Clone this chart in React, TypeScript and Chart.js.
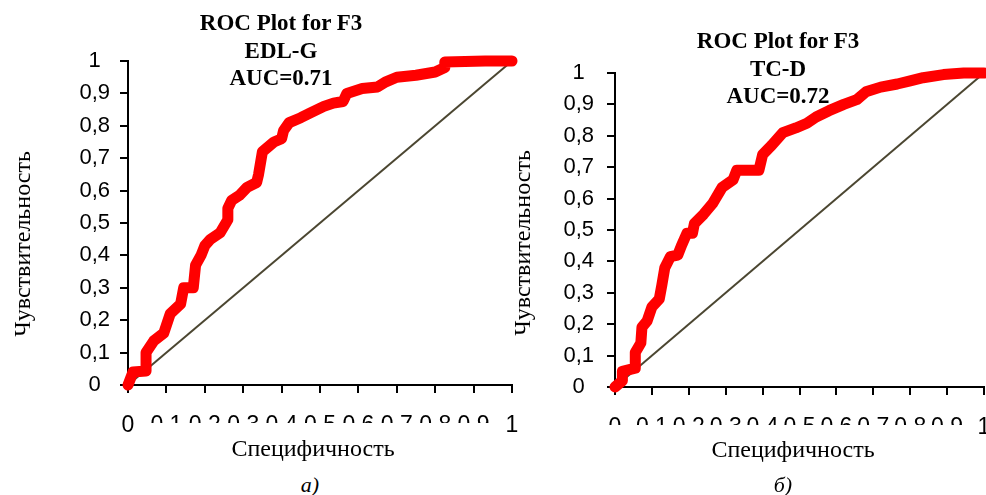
import React, { useEffect, useRef } from 'react';
import { Chart, registerables } from 'chart.js';

Chart.register(...registerables);

// ---- Data ----
const leftX = [0, 0.013, 0.047, 0.047, 0.067, 0.093, 0.11, 0.137, 0.145, 0.17, 0.176, 0.19, 0.2, 0.215, 0.24, 0.26, 0.26, 0.27, 0.29, 0.31, 0.335, 0.34, 0.35, 0.38, 0.4, 0.405, 0.42, 0.45, 0.475, 0.51, 0.535, 0.56, 0.57, 0.61, 0.65, 0.67, 0.7, 0.75, 0.8, 0.825, 0.825, 0.93, 1];
const leftY = [0, 0.04, 0.043, 0.1, 0.136, 0.16, 0.22, 0.25, 0.3, 0.3, 0.37, 0.4, 0.43, 0.45, 0.47, 0.51, 0.545, 0.57, 0.585, 0.61, 0.625, 0.65, 0.72, 0.75, 0.76, 0.785, 0.81, 0.825, 0.84, 0.86, 0.87, 0.875, 0.9, 0.915, 0.92, 0.935, 0.95, 0.956, 0.966, 0.98, 0.997, 1, 1];

const rightX = [0, 0.02, 0.02, 0.055, 0.055, 0.07, 0.073, 0.087, 0.1, 0.12, 0.127, 0.135, 0.15, 0.17, 0.18, 0.195, 0.21, 0.215, 0.24, 0.265, 0.29, 0.32, 0.33, 0.39, 0.4, 0.425, 0.455, 0.49, 0.52, 0.545, 0.58, 0.62, 0.655, 0.68, 0.72, 0.765, 0.8, 0.835, 0.89, 0.945, 1];
const rightY = [0, 0.02, 0.05, 0.06, 0.11, 0.14, 0.19, 0.21, 0.255, 0.28, 0.325, 0.38, 0.415, 0.42, 0.45, 0.49, 0.49, 0.52, 0.55, 0.585, 0.635, 0.66, 0.69, 0.69, 0.74, 0.77, 0.81, 0.825, 0.84, 0.86, 0.88, 0.9, 0.915, 0.94, 0.955, 0.965, 0.975, 0.985, 0.995, 1, 1];

const diagX = [0, 1];
const diagY = [0, 1];

const tickValues = [0, 0.1, 0.2, 0.3, 0.4, 0.5, 0.6, 0.7, 0.8, 0.9, 1];
const tickLabels = ['0', '0,1', '0,2', '0,3', '0,4', '0,5', '0,6', '0,7', '0,8', '0,9', '1'];

const leftTitle = ['ROC Plot for F3', 'EDL-G', 'AUC=0.71'];
const rightTitle = ['ROC Plot for F3', 'TC-D', 'AUC=0.72'];
const xAxisTitle = 'Специфичность';
const yAxisTitle = 'Чувствительность';

const SANS = '"Liberation Sans", Arial, sans-serif';
const SERIF = '"Liberation Serif", "Times New Roman", serif';

// Draws the x tick labels through the x scale; labels not in `full`
// show only their upper part (as in the reference picture).
const xTickLabelsPlugin = {
  id: 'xTickLabelsClipped',
  afterDraw(chart: any, _args: any, opts: any) {
    const s = chart.scales.x;
    const ctx = chart.ctx;
    ctx.save();
    ctx.font = `${opts.size}px ${SANS}`;
    ctx.fillStyle = '#000';
    ctx.textAlign = 'center';
    ctx.textBaseline = 'alphabetic';
    tickValues.forEach((v, i) => {
      const x = s.getPixelForValue(v);
      const y = s.top + opts.baseline;
      ctx.save();
      if (!opts.full.includes(i)) {
        ctx.beginPath();
        ctx.rect(x - 40, 0, 80, y - opts.hidden);
        ctx.clip();
      }
      ctx.fillText(tickLabels[i], x, y);
      ctx.restore();
    });
    ctx.restore();
  },
};

type RocProps = {
  xs: number[];
  ys: number[];
  width: number;
  height: number;
  yAxisWidth: number;
  xAxisHeight: number;
  padTop: number;
  padRight: number;
  yTickPad: number;
  xLabelBaseline: number;
  fullLabels: number[];
};

function RocChart({ xs, ys, width, height, yAxisWidth, xAxisHeight, padTop, padRight, yTickPad, xLabelBaseline, fullLabels }: RocProps) {
  const ref = useRef<HTMLCanvasElement>(null);
  useEffect(() => {
    const canvas = ref.current;
    if (!canvas) return;
    const roc = xs.map((x, i) => ({ x, y: ys[i] }));
    const diag = diagX.map((x, i) => ({ x, y: diagY[i] }));
    const tickCb = (v: any) => tickLabels[Math.round(Number(v) * 10)];
    const chart = new Chart(canvas, {
      type: 'scatter',
      data: {
        datasets: [
          {
            data: roc,
            showLine: true,
            borderColor: '#ff0000',
            backgroundColor: '#ff0000',
            borderWidth: 11,
            borderJoinStyle: 'round',
            borderCapStyle: 'round',
            pointRadius: 0,
            clip: false,
          } as any,
          {
            data: diag,
            showLine: true,
            borderColor: '#4b4631',
            borderWidth: 2,
            pointRadius: 0,
            clip: false,
          } as any,
        ],
      },
      plugins: [xTickLabelsPlugin],
      options: {
        responsive: false,
        animation: false,
        layout: { padding: { top: padTop, right: padRight, left: 0, bottom: 0 } },
        plugins: {
          legend: { display: false },
          tooltip: { enabled: false },
          title: { display: false },
          xTickLabelsClipped: { size: 23, baseline: xLabelBaseline, hidden: 9, full: fullLabels },
        },
        scales: {
          x: {
            type: 'linear',
            min: 0,
            max: 1,
            ticks: {
              display: false,
              stepSize: 0.1,
              autoSkip: false,
              maxRotation: 0,
              minRotation: 0,
            },
            grid: { drawOnChartArea: false, drawTicks: true, tickLength: 8, color: '#000', lineWidth: 2 },
            border: { display: true, color: '#000', width: 2 },
            afterFit: (s: any) => {
              s.height = xAxisHeight;
              s.paddingLeft = 0;
              s.paddingRight = 0;
            },
          },
          y: {
            type: 'linear',
            min: 0,
            max: 1,
            ticks: {
              stepSize: 0.1,
              autoSkip: false,
              crossAlign: 'center',
              padding: yTickPad,
              color: '#000',
              font: { family: SANS, size: 22 },
              callback: tickCb,
            },
            grid: { drawOnChartArea: false, drawTicks: true, tickLength: 8, color: '#000', lineWidth: 2 },
            border: { display: true, color: '#000', width: 2 },
            afterFit: (s: any) => {
              s.width = yAxisWidth;
              s.paddingTop = 0;
              s.paddingBottom = 0;
            },
          },
        },
      } as any,
    });
    return () => chart.destroy();
  }, []);
  return <canvas ref={ref} width={width} height={height} style={{ display: 'block', width, height }} />;
}

function TitleBlock({ lines, centerX, top }: { lines: string[]; centerX: number; top: number }) {
  return (
    <div
      style={{
        position: 'absolute',
        left: centerX - 150,
        top,
        width: 300,
        textAlign: 'center',
        fontFamily: SERIF,
        fontWeight: 'bold',
        fontSize: 23,
        lineHeight: '27.5px',
        color: '#000',
      }}
    >
      {lines.map((l, i) => (
        <div key={i}>{l}</div>
      ))}
    </div>
  );
}

function Label({ text, cx, cy, size, italic, rotate }: { text: string; cx: number; cy: number; size: number; italic?: boolean; rotate?: boolean }) {
  return (
    <div
      style={{
        position: 'absolute',
        left: cx - 150,
        top: cy - 15,
        width: 300,
        height: 30,
        lineHeight: '30px',
        textAlign: 'center',
        fontFamily: SERIF,
        fontStyle: italic ? 'italic' : 'normal',
        fontSize: size,
        color: '#000',
        whiteSpace: 'nowrap',
        transform: rotate ? 'rotate(-90deg)' : undefined,
      }}
    >
      {text}
    </div>
  );
}

export default function App() {
  return (
    <div style={{ position: 'absolute', left: 0, top: 0, width: 986, height: 495, overflow: 'hidden', background: '#fff' }}>
      <div style={{ position: 'absolute', left: 0, top: 0 }}>
        <RocChart xs={leftX} ys={leftY} width={520} height={465} yAxisWidth={128} xAxisHeight={80} padTop={61} padRight={8} yTickPad={10} xLabelBaseline={47} fullLabels={[0, 10]} />
      </div>
      <div style={{ position: 'absolute', left: 500, top: 0 }}>
        <RocChart xs={rightX} ys={rightY} width={486} height={465} yAxisWidth={115} xAxisHeight={78} padTop={73} padRight={2} yTickPad={13} xLabelBaseline={47} fullLabels={[10]} />
      </div>
      <TitleBlock lines={leftTitle} centerX={281} top={9} />
      <TitleBlock lines={rightTitle} centerX={778} top={27} />
      <Label text={yAxisTitle} cx={22} cy={244} size={24} rotate />
      <Label text={yAxisTitle} cx={522} cy={243} size={24} rotate />
      <Label text={xAxisTitle} cx={313} cy={448} size={24} />
      <Label text={xAxisTitle} cx={793} cy={449} size={24} />
      <Label text="а)" cx={310} cy={485} size={22} italic />
      <Label text="б)" cx={783} cy={485} size={22} italic />
    </div>
  );
}
